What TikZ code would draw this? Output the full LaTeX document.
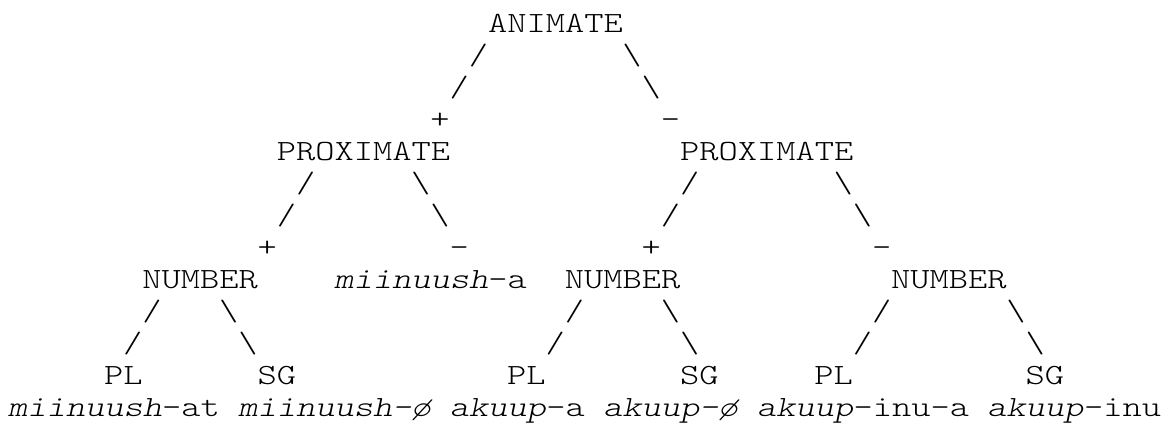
\documentclass[tikz,border=0pt]{standalone}
\usepackage{fontspec}
\usepackage{graphicx}
\setmonofont{lmmonolt10-regular.otf}[ItalicFont=lmmonolt10-oblique.otf]
\newcommand{\mono}[1]{\scalebox{1.25}[1]{\ttfamily\fontsize{22pt}{22pt}\selectfont #1}}
\tikzset{
  txt/.style={inner sep=0pt, outer sep=0pt, anchor=base west, text=black},
}
\newcommand{\bs}{\textbackslash}
\begin{document}
\begin{tikzpicture}
\fill[white] (0,0) rectangle (879.75pt,-316.5pt);
\useasboundingbox (0,0) rectangle (879.75pt,-316.5pt);
\begin{scope}[x=14.4pt,y=-24pt,xshift=6pt]
% row 1
\node[txt] (animate) at (25,1) {\mono{ANIMATE}};
% rows 2-4
\node[txt] (a2l) at (24,2) {\mono{/}};
\node[txt] (a2r) at (32,2) {\mono{\bs}};
\node[txt] (a3l) at (23,3) {\mono{/}};
\node[txt] (a3r) at (33,3) {\mono{\bs}};
\node[txt] (aplus) at (22,4) {\mono{+}};
\node[txt] (aminus) at (34,4) {\mono{-}};
% row 5
\node[txt] (proxL) at (14,5) {\mono{PROXIMATE}};
\node[txt] (proxR) at (35,5) {\mono{PROXIMATE}};
% rows 6-8
\node[txt] (pL6l) at (15,6) {\mono{/}};
\node[txt] (pL6r) at (21,6) {\mono{\bs}};
\node[txt] (pR6l) at (35,6) {\mono{/}};
\node[txt] (pR6r) at (43,6) {\mono{\bs}};
\node[txt] (pL7l) at (14,7) {\mono{/}};
\node[txt] (pL7r) at (22,7) {\mono{\bs}};
\node[txt] (pR7l) at (34,7) {\mono{/}};
\node[txt] (pR7r) at (44,7) {\mono{\bs}};
\node[txt] (pLplus) at (13,8) {\mono{+}};
\node[txt] (pLminus) at (23,8) {\mono{-}};
\node[txt] (pRplus) at (33,8) {\mono{+}};
\node[txt] (pRminus) at (45,8) {\mono{-}};
% row 9
\node[txt] (num1) at (7,9) {\mono{NUMBER}};
\node[txt] (mina) at (17,9) {\mono{\textit{miinuush}-a}};
\node[txt] (num2) at (29,9) {\mono{NUMBER}};
\node[txt] (num3) at (46,9) {\mono{NUMBER}};
% rows 10-11
\node[txt] (n1a) at (7,10) {\mono{/}};
\node[txt] (n1b) at (11,10) {\mono{\bs}};
\node[txt] (n2a) at (29,10) {\mono{/}};
\node[txt] (n2b) at (34,10) {\mono{\bs}};
\node[txt] (n3a) at (45,10) {\mono{/}};
\node[txt] (n3b) at (52,10) {\mono{\bs}};
\node[txt] (n1c) at (6,11) {\mono{/}};
\node[txt] (n1d) at (12,11) {\mono{\bs}};
\node[txt] (n2c) at (28,11) {\mono{/}};
\node[txt] (n2d) at (35,11) {\mono{\bs}};
\node[txt] (n3c) at (44,11) {\mono{/}};
\node[txt] (n3d) at (53,11) {\mono{\bs}};
% row 12
\node[txt] (pl1) at (5,12) {\mono{PL}};
\node[txt] (sg1) at (13,12) {\mono{SG}};
\node[txt] (pl2) at (26,12) {\mono{PL}};
\node[txt] (sg2) at (35,12) {\mono{SG}};
\node[txt] (pl3) at (42,12) {\mono{PL}};
\node[txt] (sg3) at (53,12) {\mono{SG}};
% row 13
\node[txt] (w1) at (0,13) {\mono{\textit{miinuush}-at}};
\node[txt] (w2) at (12,13) {\mono{\textit{miinuush-ø}}};
\node[txt] (w3) at (23,13) {\mono{\textit{akuup}-a}};
\node[txt] (w4) at (31,13) {\mono{\textit{akuup-ø}}};
\node[txt] (w5) at (39,13) {\mono{\textit{akuup}-inu-a}};
\node[txt] (w6) at (51,13) {\mono{\textit{akuup}-inu}};
\end{scope}
\end{tikzpicture}
\end{document}
